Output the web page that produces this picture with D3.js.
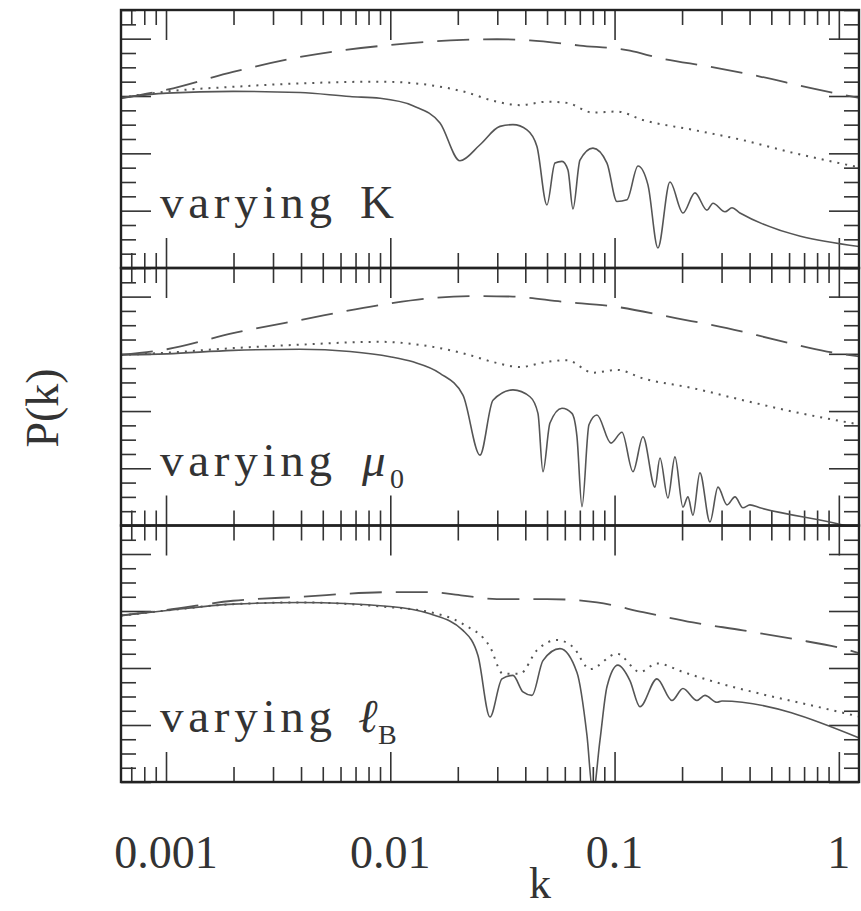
<!DOCTYPE html>
<html><head><meta charset="utf-8">
<script src="https://cdn.jsdelivr.net/npm/d3@7"></script>
<style>body{margin:0;background:#fff}</style>
</head><body><svg id="c" width="861" height="911"></svg>
<script>
// ---- data (k, log-power in panel units; panel spans 0..4.5) ----
const kMajor = [0.001, 0.01, 0.1, 1];
const kLabels = ["0.001", "0.01", "0.1", "1"];

const p1Dashed = [[0.00063,2.96],[0.00101,3.11],[0.00199,3.42],[0.00396,3.68],[0.00997,3.89],[0.02109,3.98],[0.0299,3.99],[0.04196,3.97],[0.07011,3.88],[0.1171,3.79],[0.1594,3.66],[0.2663,3.51],[0.4448,3.34],[0.7434,3.14],[1.254,2.96]];
const p1Dotted = [[0.00063,2.97],[0.00101,3.08],[0.00199,3.16],[0.00396,3.22],[0.009,3.25],[0.01503,3.19],[0.02109,3.08],[0.0299,2.90],[0.03786,2.84],[0.04994,2.90],[0.06135,2.88],[0.08011,2.71],[0.1025,2.73],[0.1339,2.58],[0.2236,2.41],[0.3736,2.23],[0.6241,2.01],[1.254,1.75]];
const p1Solid = [[0.00063,2.97],[0.00101,3.05],[0.00199,3.08],[0.00396,3.06],[0.00661,2.99],[0.009,2.96],[0.01262,2.83],[0.01666,2.53],[0.02045,1.87],[0.02512,2.15],[0.03084,2.47],[0.03524,2.50],[0.04069,2.41],[0.04508,2.12],[0.04994,1.10],[0.05424,1.83],[0.05829,1.86],[0.06198,1.71],[0.06524,1.03],[0.07011,1.88],[0.08011,2.09],[0.0925,1.83],[0.1025,1.16],[0.1136,1.19],[0.1272,1.78],[0.1409,1.45],[0.1561,0.35],[0.1766,1.50],[0.2018,0.96],[0.2282,1.31],[0.2582,1.01],[0.2747,1.13],[0.3107,0.98],[0.3339,1.05],[0.3623,0.96],[1.254,0.37]];

const p2Dashed = [[0.00063,2.98],[0.00101,3.08],[0.00199,3.36],[0.00396,3.59],[0.00997,3.88],[0.01503,3.97],[0.02512,4.01],[0.03524,4.00],[0.05888,3.91],[0.09837,3.83],[0.1898,3.62],[0.3172,3.45],[0.5297,3.24],[0.8849,3.04],[1.254,2.95]];
const p2Dotted = [[0.00063,2.98],[0.00101,3.02],[0.00199,3.10],[0.00396,3.16],[0.009,3.21],[0.01503,3.13],[0.02109,3.01],[0.0299,2.84],[0.03786,2.77],[0.04994,2.86],[0.06135,2.89],[0.08011,2.67],[0.1025,2.72],[0.1339,2.57],[0.2236,2.40],[0.3736,2.19],[0.6241,1.99],[1.254,1.76]];
const p2Solid = [[0.00063,2.98],[0.00101,3.0],[0.00199,3.06],[0.00396,3.08],[0.00661,3.04],[0.00997,2.95],[0.01262,2.86],[0.01666,2.66],[0.02109,2.28],[0.02512,1.23],[0.0287,2.19],[0.03524,2.37],[0.04196,2.25],[0.04555,1.96],[0.04794,0.94],[0.05152,1.79],[0.05829,2.05],[0.06457,1.96],[0.06799,1.55],[0.07158,0.33],[0.07689,1.76],[0.08346,1.93],[0.09637,1.44],[0.1079,1.63],[0.1208,0.94],[0.1339,1.55],[0.1514,0.67],[0.1594,1.18],[0.173,0.48],[0.1859,1.20],[0.2018,0.32],[0.2124,0.50],[0.2236,0.18],[0.2402,0.92],[0.2663,0.06],[0.2891,0.67],[0.3172,0.36],[0.3443,0.50],[0.3736,0.31],[0.4014,0.36],[0.4448,0.31],[1.087,-0.01],[1.254,-0.08]];

const p3Dashed = [[0.00063,2.92],[0.00101,3.02],[0.00199,3.18],[0.00396,3.25],[0.00997,3.33],[0.01503,3.33],[0.02109,3.27],[0.0299,3.21],[0.04994,3.21],[0.08346,3.15],[0.1339,2.98],[0.2236,2.80],[0.3736,2.66],[0.6241,2.51],[1.043,2.34],[1.254,2.25]];
const p3Dotted = [[0.00063,2.92],[0.00101,3.01],[0.00199,3.12],[0.00396,3.15],[0.009,3.08],[0.01503,2.98],[0.02109,2.77],[0.02783,2.37],[0.0318,1.90],[0.03786,1.90],[0.04508,2.31],[0.05536,2.49],[0.06524,2.37],[0.07768,1.98],[0.1025,2.25],[0.1298,1.93],[0.1545,2.08],[0.2018,1.93],[0.2663,1.78],[0.4448,1.55],[0.7434,1.35],[1.254,1.14]];
const p3Solid = [[0.00063,2.92],[0.00101,3.01],[0.00199,3.12],[0.00396,3.15],[0.00997,3.08],[0.01503,2.95],[0.02109,2.66],[0.0246,2.22],[0.02783,1.14],[0.03148,1.81],[0.03524,1.87],[0.03905,1.58],[0.04283,1.52],[0.04794,2.13],[0.05711,2.34],[0.06799,1.92],[0.07532,0.82],[0.08011,-0.2],[0.08608,0.73],[0.0925,1.67],[0.1035,2.05],[0.1171,1.78],[0.1298,1.32],[0.1545,1.81],[0.1803,1.43],[0.2018,1.64],[0.233,1.43],[0.2529,1.52],[0.2861,1.40],[0.3012,1.42],[1.254,0.76]];

const panelNames = ["K", "μ", "ℓ"];
const panelSubs = ["", "0", "B"];

// ---- layout ----
const svg = d3.select("#c");
const L = 121, R = 859;
const tops = [10, 268, 525.5], bottoms = [268, 525.5, 782];
const x = d3.scaleLog().domain([0.00063, 1.23]).range([L, R]);

const minorK = [];
for (let e = -4; e <= 0; e++) for (let m = 2; m <= 9; m++) {
  const v = +(m * Math.pow(10, e)).toPrecision(3);
  if (v >= 0.00063 && v <= 1.23) minorK.push(v);
}
const minorU = d3.range(0, 4.51, 0.25).filter(v => Math.abs(v - Math.round(v)) > 0.01);
const majorU = [0, 1, 2, 3, 4];

const panels = [
  [p1Solid, p1Dotted, p1Dashed],
  [p2Solid, p2Dotted, p2Dashed],
  [p3Solid, p3Dotted, p3Dashed]
];

const tickStyle = g => {
  g.select(".domain").remove();
  g.selectAll(".tick line").attr("stroke", "#333").attr("stroke-width", 1.6);
  g.selectAll(".tick text").remove();
};

panels.forEach((series, i) => {
  const top = tops[i], bot = bottoms[i];
  const y = d3.scaleLinear().domain([0, 4.5]).range([bot, top]);
  const g = svg.append("g");

  g.append("clipPath").attr("id", "clip" + i)
    .append("rect").attr("x", L).attr("y", top).attr("width", R - L).attr("height", bot - top);

  [[minorK, 15], [kMajor, 30]].forEach(([vals, s]) => {
    g.append("g").attr("transform", `translate(0,${top})`)
      .call(d3.axisBottom(x).tickValues(vals).tickSizeInner(s).tickSizeOuter(0)).call(tickStyle);
    g.append("g").attr("transform", `translate(0,${bot})`)
      .call(d3.axisTop(x).tickValues(vals).tickSizeInner(s).tickSizeOuter(0)).call(tickStyle);
  });
  [[minorU, 15], [majorU, 30]].forEach(([vals, s]) => {
    g.append("g").attr("transform", `translate(${L},0)`)
      .call(d3.axisRight(y).tickValues(vals).tickSizeInner(s).tickSizeOuter(0)).call(tickStyle);
    g.append("g").attr("transform", `translate(${R},0)`)
      .call(d3.axisLeft(y).tickValues(vals).tickSizeInner(s).tickSizeOuter(0)).call(tickStyle);
  });

  const line = d3.line().x(d => x(d[0])).y(d => y(d[1])).curve(d3.curveMonotoneX);
  const styles = [
    { dash: null, w: 1.6 },
    { dash: "2,6", w: 2 },
    { dash: "32,14", w: 1.8 }
  ];
  series.forEach((data, j) => {
    g.append("path").datum(data).attr("clip-path", `url(#clip${i})`)
      .attr("d", line).attr("fill", "none").attr("stroke", "#555")
      .attr("stroke-width", styles[j].w)
      .attr("stroke-dasharray", styles[j].dash);
  });

  g.append("rect").attr("x", L).attr("y", top).attr("width", R - L).attr("height", bot - top)
    .attr("fill", "none").attr("stroke", "#222").attr("stroke-width", 2.4);

  const base = bot - 50;
  g.append("text").attr("x", 160).attr("y", base).text("varying")
    .attr("font-family", "Liberation Serif").attr("font-size", 47).attr("fill", "#333")
    .attr("textLength", 172).attr("lengthAdjust", "spacing");
  g.append("text").attr("x", i === 0 ? 360 : (i === 1 ? 362 : 358)).attr("y", base)
    .attr("font-family", "Liberation Serif").attr("font-size", 47).attr("fill", "#333")
    .attr("font-style", i === 0 ? "normal" : "italic").text(panelNames[i]);
  if (panelSubs[i]) {
    g.append("text").attr("x", i === 1 ? 390 : 378).attr("y", base + 12)
      .attr("font-family", "Liberation Serif").attr("font-size", 28).attr("fill", "#333")
      .text(panelSubs[i]);
  }
});

svg.append("g").selectAll("text").data(kMajor).join("text")
  .attr("x", d => x(d)).attr("y", 868).attr("text-anchor", "middle")
  .attr("font-family", "Liberation Serif").attr("font-size", 46).attr("fill", "#333")
  .text((d, i) => kLabels[i]);

svg.append("text").attr("x", 540).attr("y", 898).attr("text-anchor", "middle")
  .attr("font-family", "Liberation Serif").attr("font-size", 44).attr("fill", "#333").text("k");

svg.append("text").attr("transform", "translate(58,408) rotate(-90)").attr("text-anchor", "middle")
  .attr("font-family", "Liberation Serif").attr("font-size", 46).attr("fill", "#333").text("P(k)");
</script>
</body></html>
